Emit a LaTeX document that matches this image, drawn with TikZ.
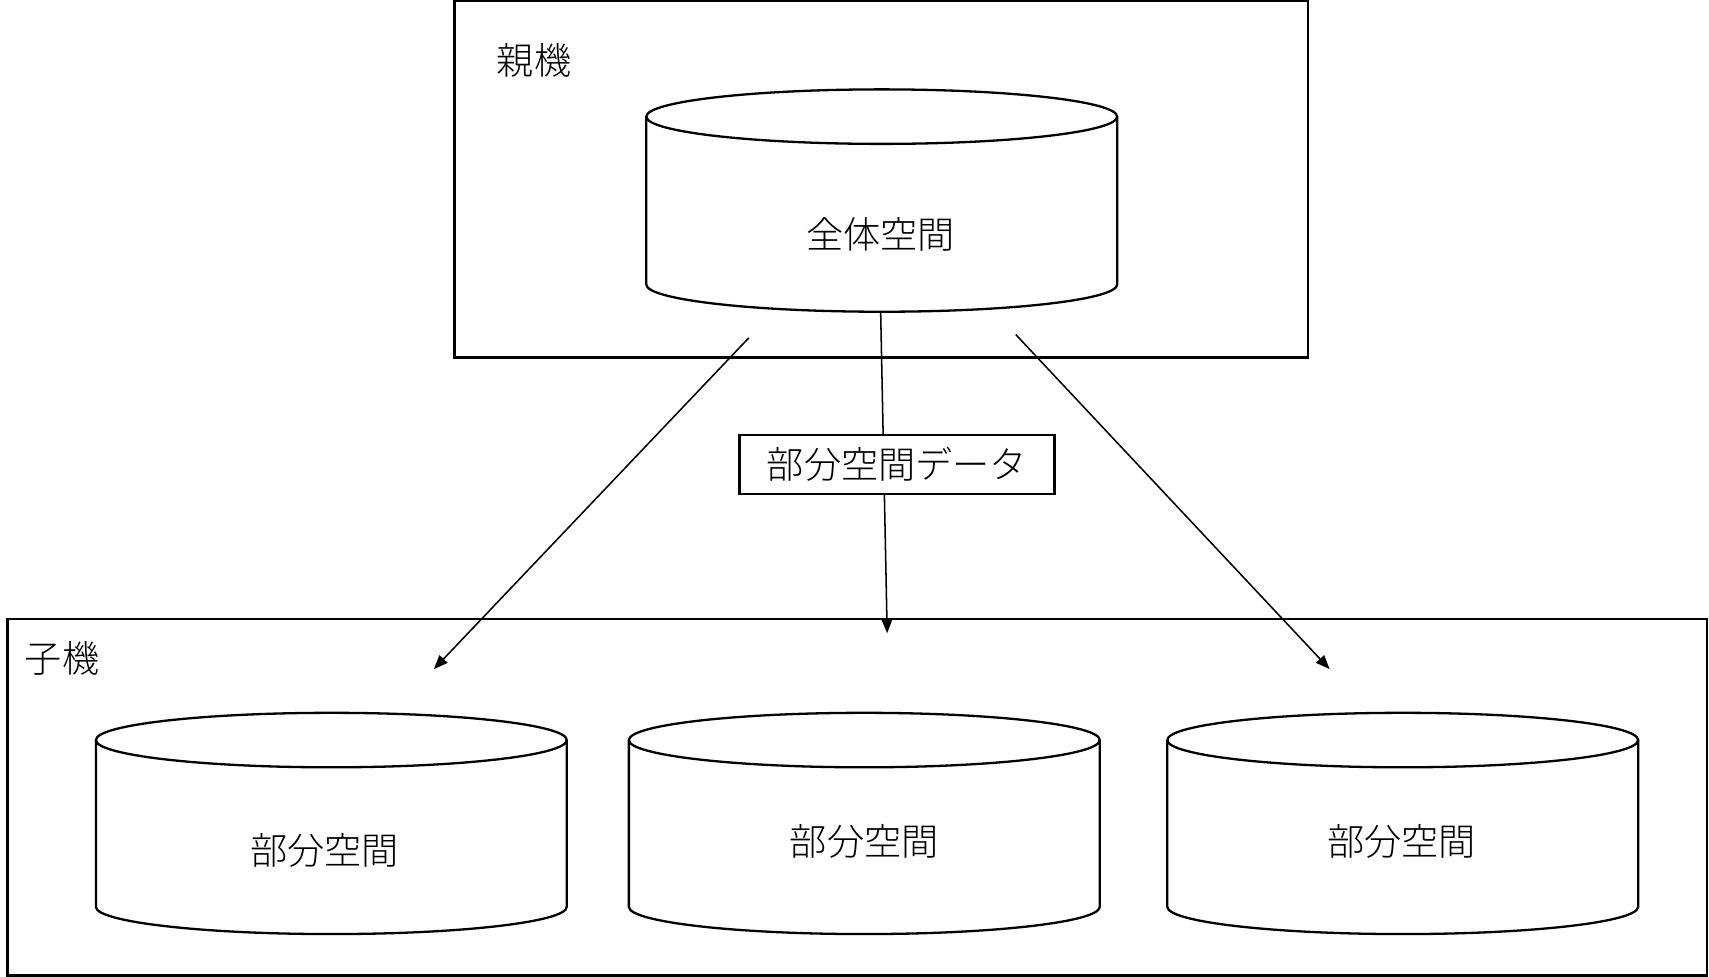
\documentclass[tikz,border=0pt]{standalone}
\usepackage{fontspec}
\newfontfamily\jpfont{Noto Sans CJK JP Light}
\usetikzlibrary{arrows.meta}
\def\rx{216}
\def\ry{25}
\tikzset{
  frame/.style={draw, line width=0.6pt},
  flow/.style={-{Triangle[length=1.3mm,width=1mm]}, line width=0.4pt},
}

\begin{document}
\begin{tikzpicture}[x=0.01cm,y=-0.01cm,font=\jpfont\fontsize{9.7pt}{12pt}\selectfont]
\useasboundingbox (0,0) rectangle (1568,896);

% parent machine
\draw[frame] (417,1) rectangle (1200,328);
\node (parent) at (490,55) {親機};

% whole space
\draw[frame] (809,107) ellipse [x radius=\rx, y radius=\ry];
\draw[frame] (593,107) -- (593,261) arc[start angle=180, end angle=0, x radius=\rx, y radius=\ry] -- (1025,107);
\node (whole) at (808,215) {全体空間};

% child machine
\draw[frame] (7,568) rectangle (1566,895);
\node (child) at (57,604) {子機};

% partial spaces
\foreach\x/\tx/\ty [count=\i] in {88/298/780,577/793/772,1071/1286/772}
  {
  \draw[frame] (\x+\rx,679) ellipse [x radius=\rx, y radius=\ry];
  \draw[frame] (\x,679) -- (\x,832) arc[start angle=180, end angle=0, x radius=\rx, y radius=\ry] -- (\x+2*\rx,679);
  \node (part\i) at (\tx,\ty) {部分空間};
  }

% data flow
\coordinate (lstart) at (687,310);
\coordinate (lend) at (398,614);
\coordinate (mstart) at (808,286);
\coordinate (mend) at (814,581);
\coordinate (rstart) at (932,307);
\coordinate (rend) at (1220,614);
\draw[flow] (lstart) -- (lend);
\draw[flow] (mstart) -- (mend);
\draw[flow] (rstart) -- (rend);

% data label
\node[frame, fill=white, minimum width=2.89cm, minimum height=0.54cm, inner sep=0pt] (data) at (823,426) {部分空間データ};

\end{tikzpicture}
\end{document}
